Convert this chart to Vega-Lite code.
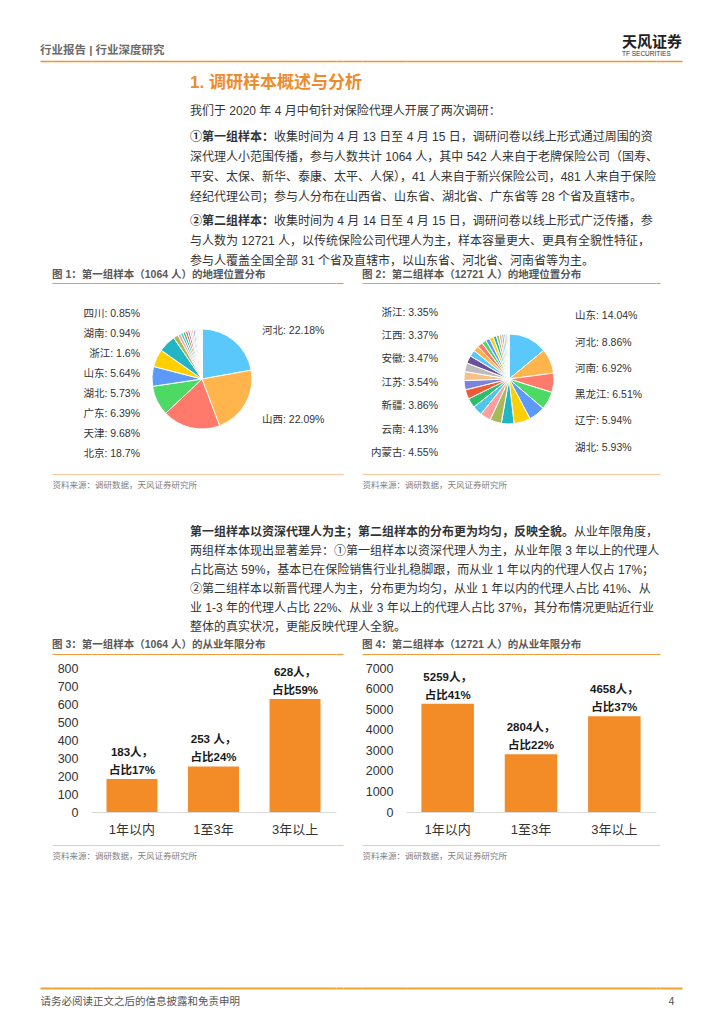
{
  "$schema": "https://vega.github.io/schema/vega-lite/v6.json",
  "background": "white",
  "padding": 0,
  "columns": 10,
  "spacing": 0,
  "bounds": "flush",
  "align": "each",
  "resolve": {"scale": {"color": "independent", "x": "independent", "y": "independent", "theta": "independent"}},
  "config": {
    "font": "Liberation Sans, Noto Sans CJK SC",
    "view": {"stroke": null},
    "title": {"font": "Liberation Sans, Noto Sans CJK SC", "subtitleFont": "Liberation Sans, Noto Sans CJK SC"},
    "axis": {"labelFont": "Liberation Sans, Noto Sans CJK SC", "titleFont": "Liberation Sans, Noto Sans CJK SC"},
    "text": {"font": "Liberation Sans, Noto Sans CJK SC"}
  },
  "concat": [
    {"width": 40, "height": 61, "data": {"values": []}, "mark": "point"},
    {"width": 12, "height": 61, "data": {"values": []}, "mark": "point",
     "encoding": {"x": {"field": "v", "type": "quantitative", "scale": {"domain": [0, 1]}, "axis": {"orient": "bottom", "labels": false, "ticks": false, "tickSize": 0, "grid": false, "title": null, "domainColor": "#F0922E", "domainWidth": 1.5}}},
     "title": {"text": "行业报告 | 行业深度研究", "orient": "bottom", "anchor": "start", "frame": "group", "offset": -16, "fontSize": 11.5, "fontWeight": "bold", "color": "#6b6b6b"}},
    {"width": 39, "height": 61, "data": {"values": []}, "mark": "point",
     "encoding": {"x": {"field": "v", "type": "quantitative", "scale": {"domain": [0, 1]}, "axis": {"orient": "bottom", "labels": false, "ticks": false, "tickSize": 0, "grid": false, "title": null, "domainColor": "#F0922E", "domainWidth": 1.5}}}},
    {"width": 245, "height": 61, "data": {"values": []}, "mark": "point",
     "encoding": {"x": {"field": "v", "type": "quantitative", "scale": {"domain": [0, 1]}, "axis": {"orient": "bottom", "labels": false, "ticks": false, "tickSize": 0, "grid": false, "title": null, "domainColor": "#F0922E", "domainWidth": 1.5}}}},
    {"width": 7, "height": 61, "data": {"values": []}, "mark": "point",
     "encoding": {"x": {"field": "v", "type": "quantitative", "scale": {"domain": [0, 1]}, "axis": {"orient": "bottom", "labels": false, "ticks": false, "tickSize": 0, "grid": false, "title": null, "domainColor": "#F0922E", "domainWidth": 1.5}}}},
    {"width": 19, "height": 61, "data": {"values": []}, "mark": "point",
     "encoding": {"x": {"field": "v", "type": "quantitative", "scale": {"domain": [0, 1]}, "axis": {"orient": "bottom", "labels": false, "ticks": false, "tickSize": 0, "grid": false, "title": null, "domainColor": "#F0922E", "domainWidth": 1.5}}}},
    {"width": 44, "height": 61, "data": {"values": []}, "mark": "point",
     "encoding": {"x": {"field": "v", "type": "quantitative", "scale": {"domain": [0, 1]}, "axis": {"orient": "bottom", "labels": false, "ticks": false, "tickSize": 0, "grid": false, "title": null, "domainColor": "#F0922E", "domainWidth": 1.5}}}},
    {"width": 250, "height": 61, "data": {"values": []}, "mark": "point",
     "encoding": {"x": {"field": "v", "type": "quantitative", "scale": {"domain": [0, 1]}, "axis": {"orient": "bottom", "labels": false, "ticks": false, "tickSize": 0, "grid": false, "title": null, "domainColor": "#F0922E", "domainWidth": 1.5}}},
     "title": {"text": "天风证券", "subtitle": "TF SECURITIES", "orient": "bottom", "anchor": "start", "frame": "group", "dx": 216, "offset": -26, "fontSize": 15, "fontWeight": "bold", "color": "#222222", "subtitleFontSize": 6.5, "subtitleColor": "#333333", "subtitlePadding": 1}},
    {"width": 4, "height": 61, "data": {"values": []}, "mark": "point",
     "encoding": {"x": {"field": "v", "type": "quantitative", "scale": {"domain": [0, 1]}, "axis": {"orient": "bottom", "labels": false, "ticks": false, "tickSize": 0, "grid": false, "title": null, "domainColor": "#F0922E", "domainWidth": 1.5}}}},
    {"width": 22, "height": 61, "data": {"values": []}, "mark": "point",
     "encoding": {"x": {"field": "v", "type": "quantitative", "scale": {"domain": [0, 1]}, "axis": {"orient": "bottom", "labels": false, "ticks": false, "tickSize": 0, "grid": false, "title": null, "domainColor": "#F0922E", "domainWidth": 1.5}}}},

    {"width": 40, "height": 39, "data": {"values": []}, "mark": "point"},
    {"width": 12, "height": 1, "data": {"values": []}, "mark": "point"},
    {"width": 39, "height": 1, "data": {"values": []}, "mark": "point"},
    {"width": 245, "height": 39, "data": {"values": []}, "mark": "point",
     "title": {"text": "1. 调研样本概述与分析", "orient": "bottom", "anchor": "start", "frame": "group", "dx": 99, "offset": -25, "fontSize": 17, "fontWeight": "bold", "color": "#EE8B2C"}},
    {"width": 7, "height": 1, "data": {"values": []}, "mark": "point"},
    {"width": 19, "height": 1, "data": {"values": []}, "mark": "point"},
    {"width": 44, "height": 1, "data": {"values": []}, "mark": "point"},
    {"width": 250, "height": 1, "data": {"values": []}, "mark": "point"},
    {"width": 4, "height": 1, "data": {"values": []}, "mark": "point"},
    {"width": 22, "height": 1, "data": {"values": []}, "mark": "point"},

    {"width": 40, "height": 26, "data": {"values": []}, "mark": "point"},
    {"width": 12, "height": 1, "data": {"values": []}, "mark": "point"},
    {"width": 39, "height": 1, "data": {"values": []}, "mark": "point"},
    {"width": 245, "height": 26, "data": {"values": []}, "mark": "point",
     "title": {"text": "我们于 2020 年 4 月中旬针对保险代理人开展了两次调研：", "orient": "bottom", "anchor": "start", "frame": "group", "dx": 99, "offset": -20, "fontSize": 12, "fontWeight": "normal", "color": "#333333"}},
    {"width": 7, "height": 1, "data": {"values": []}, "mark": "point"},
    {"width": 19, "height": 1, "data": {"values": []}, "mark": "point"},
    {"width": 44, "height": 1, "data": {"values": []}, "mark": "point"},
    {"width": 250, "height": 1, "data": {"values": []}, "mark": "point"},
    {"width": 4, "height": 1, "data": {"values": []}, "mark": "point"},
    {"width": 22, "height": 1, "data": {"values": []}, "mark": "point"},

    {"width": 40, "height": 86, "data": {"values": []}, "mark": "point"},
    {"width": 12, "height": 1, "data": {"values": []}, "mark": "point",
     "title": {"text": "收集时间为 4 月 13 日至 4 月 15 日，调研问卷以线上形式通过周围的资", "orient": "bottom", "anchor": "start", "frame": "group", "dx": 234, "offset": 5, "fontSize": 12, "fontWeight": "normal", "color": "#333333"}},
    {"width": 39, "height": 1, "data": {"values": []}, "mark": "point",
     "title": {"text": "①第一组样本：", "orient": "bottom", "anchor": "start", "frame": "group", "dx": 138, "offset": 5, "fontSize": 12, "fontWeight": "bold", "color": "#333333"}},
    {"width": 245, "height": 86, "data": {"values": []}, "mark": "point",
     "title": {"text": ["深代理人小范围传播，参与人数共计 1064 人，其中 542 人来自于老牌保险公司（国寿、", "平安、太保、新华、泰康、太平、人保），41 人来自于新兴保险公司，481 人来自于保险", "经纪代理公司；参与人分布在山西省、山东省、湖北省、广东省等 28 个省及直辖市。"], "lineHeight": 20, "orient": "bottom", "anchor": "start", "frame": "group", "dx": 99, "offset": -60, "fontSize": 12, "fontWeight": "normal", "color": "#333333"}},
    {"width": 7, "height": 1, "data": {"values": []}, "mark": "point"},
    {"width": 19, "height": 1, "data": {"values": []}, "mark": "point"},
    {"width": 44, "height": 1, "data": {"values": []}, "mark": "point"},
    {"width": 250, "height": 1, "data": {"values": []}, "mark": "point"},
    {"width": 4, "height": 1, "data": {"values": []}, "mark": "point"},
    {"width": 22, "height": 1, "data": {"values": []}, "mark": "point"},

    {"width": 40, "height": 71, "data": {"values": []}, "mark": "point"},
    {"width": 12, "height": 1, "data": {"values": []}, "mark": "point",
     "title": {"text": "收集时间为 4 月 14 日至 4 月 15 日，调研问卷以线上形式广泛传播，参", "orient": "bottom", "anchor": "start", "frame": "group", "dx": 234, "offset": 3, "fontSize": 12, "fontWeight": "normal", "color": "#333333"}},
    {"width": 39, "height": 1, "data": {"values": []}, "mark": "point",
     "title": {"text": "②第二组样本：", "orient": "bottom", "anchor": "start", "frame": "group", "dx": 138, "offset": 3, "fontSize": 12, "fontWeight": "bold", "color": "#333333"}},
    {"width": 245, "height": 71, "data": {"values": []}, "mark": "point",
     "title": {"text": ["与人数为 12721 人，以传统保险公司代理人为主，样本容量更大、更具有全貌性特征，", "参与人覆盖全国全部 31 个省及直辖市，以山东省、河北省、河南省等为主。"], "lineHeight": 20, "orient": "bottom", "anchor": "start", "frame": "group", "dx": 99, "offset": -47, "fontSize": 12, "fontWeight": "normal", "color": "#333333"}},
    {"width": 7, "height": 1, "data": {"values": []}, "mark": "point"},
    {"width": 19, "height": 1, "data": {"values": []}, "mark": "point"},
    {"width": 44, "height": 1, "data": {"values": []}, "mark": "point"},
    {"width": 250, "height": 1, "data": {"values": []}, "mark": "point"},
    {"width": 4, "height": 1, "data": {"values": []}, "mark": "point"},
    {"width": 22, "height": 1, "data": {"values": []}, "mark": "point"},

    {"width": 40, "height": 1, "data": {"values": []}, "mark": "point"},
    {"width": 12, "height": 1, "data": {"values": []}, "mark": "point"},
    {"width": 39, "height": 1, "data": {"values": []}, "mark": "point",
     "encoding": {"x": {"field": "v", "type": "quantitative", "scale": {"domain": [0, 1]}, "axis": {"orient": "top", "labels": false, "ticks": false, "tickSize": 0, "grid": false, "title": null, "domainColor": "#F39A3C", "domainWidth": 1.2}}},
     "title": {"text": "图 1：第一组样本（1064 人）的地理位置分布", "orient": "top", "anchor": "start", "frame": "group", "offset": 3, "fontSize": 10.5, "fontWeight": "bold", "color": "#595959"}},
    {"width": 245, "height": 1, "data": {"values": []}, "mark": "point",
     "encoding": {"x": {"field": "v", "type": "quantitative", "scale": {"domain": [0, 1]}, "axis": {"orient": "top", "labels": false, "ticks": false, "tickSize": 0, "grid": false, "title": null, "domainColor": "#F39A3C", "domainWidth": 1.2}}}},
    {"width": 7, "height": 1, "data": {"values": []}, "mark": "point",
     "encoding": {"x": {"field": "v", "type": "quantitative", "scale": {"domain": [0, 1]}, "axis": {"orient": "top", "labels": false, "ticks": false, "tickSize": 0, "grid": false, "title": null, "domainColor": "#F39A3C", "domainWidth": 1.2}}}},
    {"width": 19, "height": 1, "data": {"values": []}, "mark": "point"},
    {"width": 44, "height": 1, "data": {"values": []}, "mark": "point",
     "encoding": {"x": {"field": "v", "type": "quantitative", "scale": {"domain": [0, 1]}, "axis": {"orient": "top", "labels": false, "ticks": false, "tickSize": 0, "grid": false, "title": null, "domainColor": "#F39A3C", "domainWidth": 1.2}}},
     "title": {"text": "图 2：第二组样本（12721 人）的地理位置分布", "orient": "top", "anchor": "start", "frame": "group", "offset": 3, "fontSize": 10.5, "fontWeight": "bold", "color": "#595959"}},
    {"width": 250, "height": 1, "data": {"values": []}, "mark": "point",
     "encoding": {"x": {"field": "v", "type": "quantitative", "scale": {"domain": [0, 1]}, "axis": {"orient": "top", "labels": false, "ticks": false, "tickSize": 0, "grid": false, "title": null, "domainColor": "#F39A3C", "domainWidth": 1.2}}}},
    {"width": 4, "height": 1, "data": {"values": []}, "mark": "point",
     "encoding": {"x": {"field": "v", "type": "quantitative", "scale": {"domain": [0, 1]}, "axis": {"orient": "top", "labels": false, "ticks": false, "tickSize": 0, "grid": false, "title": null, "domainColor": "#F39A3C", "domainWidth": 1.2}}}},
    {"width": 22, "height": 1, "data": {"values": []}, "mark": "point"},

    {"width": 40, "height": 190, "data": {"values": []}, "mark": "point"},
    {"width": 12, "height": 1, "data": {"values": []}, "mark": "point"},
    {"width": 39, "height": 190, "data": {"values": []}, "mark": "point",
     "encoding": {"x": {"field": "v", "type": "quantitative", "scale": {"domain": [0, 1]}, "axis": {"orient": "bottom", "labels": false, "ticks": false, "tickSize": 0, "grid": false, "domainColor": "#F9C89D", "domainWidth": 1.2,
       "title": "资料来源：调研数据，天风证券研究所", "titleAnchor": "start", "titleAlign": "left", "titleFontSize": 8.5, "titleFontWeight": "normal", "titleColor": "#7f7f7f", "titlePadding": 6}}}},
    {"width": 245, "height": 190,
     "data": {"values": [
       {"name": "河北", "pct": 22.18, "label": "河北: 22.18%"},
       {"name": "山西", "pct": 22.09, "label": "山西: 22.09%"},
       {"name": "北京", "pct": 18.7, "label": "北京: 18.7%"},
       {"name": "天津", "pct": 9.68, "label": "天津: 9.68%"},
       {"name": "广东", "pct": 6.39, "label": "广东: 6.39%"},
       {"name": "湖北", "pct": 5.73, "label": "湖北: 5.73%"},
       {"name": "山东", "pct": 5.64, "label": "山东: 5.64%"},
       {"name": "浙江", "pct": 1.6, "label": "浙江: 1.6%"},
       {"name": "湖南", "pct": 0.94, "label": "湖南: 0.94%"},
       {"name": "四川", "pct": 0.85, "label": "四川: 0.85%"},
       {"name": "河南", "pct": 0.8, "label": ""},
       {"name": "江苏", "pct": 0.75, "label": ""},
       {"name": "辽宁", "pct": 0.7, "label": ""},
       {"name": "陕西", "pct": 0.6, "label": ""},
       {"name": "福建", "pct": 0.55, "label": ""},
       {"name": "上海", "pct": 0.48, "label": ""},
       {"name": "安徽", "pct": 0.42, "label": ""},
       {"name": "重庆", "pct": 0.37, "label": ""},
       {"name": "内蒙古", "pct": 0.32, "label": ""},
       {"name": "黑龙江", "pct": 0.27, "label": ""},
       {"name": "吉林", "pct": 0.22, "label": ""},
       {"name": "江西", "pct": 0.18, "label": ""},
       {"name": "云南", "pct": 0.15, "label": ""},
       {"name": "贵州", "pct": 0.12, "label": ""},
       {"name": "广西", "pct": 0.09, "label": ""},
       {"name": "甘肃", "pct": 0.07, "label": ""},
       {"name": "新疆", "pct": 0.06, "label": ""},
       {"name": "海南", "pct": 0.05, "label": ""}
     ]},
     "layer": [
       {"transform": [{"stack": "pct", "groupby": [], "sort": [{"field": "pct", "order": "descending"}], "as": ["p0", "p1"]}],
        "mark": {"type": "arc", "outerRadius": 50, "stroke": "white", "strokeWidth": 1},
        "encoding": {
          "x": {"datum": 0.453, "type": "quantitative", "scale": {"domain": [0, 1]}, "axis": null},
          "theta": {"field": "p0", "type": "quantitative", "scale": {"domain": [0, 100]}},
          "theta2": {"field": "p1"},
          "color": {"field": "name", "type": "nominal", "legend": null,
            "scale": {"domain": ["河北","山西","北京","天津","广东","湖北","山东","浙江","湖南","四川","河南","江苏","辽宁","陕西","福建","上海","安徽","重庆","内蒙古","黑龙江","吉林","江西","云南","贵州","广西","甘肃","新疆","海南"],
              "range": ["#5AC8FA","#FFB54C","#FF7A6B","#4CD964","#5B9BF7","#FFCF00","#22B5C6","#A8BA58","#FF9E9E","#4FC5EB","#2DBE6C","#EE5A37","#7C82E0","#F6C186","#BDBDBD","#6A4F9E","#5AC8FA","#FFB54C","#FF7A6B","#4CD964","#5B9BF7","#FFCF00","#22B5C6","#A8BA58","#FF9E9E","#4FC5EB","#2DBE6C","#EE5A37"]}}
        }},
       {"transform": [{"stack": "pct", "groupby": [], "sort": [{"field": "pct", "order": "descending"}], "as": ["p0", "p1"]},
          {"filter": "datum.label != '' && datum.p0 + datum.p1 > 100"},
          {"window": [{"op": "row_number", "as": "rk"}], "sort": [{"field": "p0", "order": "ascending"}]}],
        "mark": {"type": "text", "align": "right", "baseline": "middle", "fontSize": 10.5, "color": "#333333"},
        "encoding": {
          "x": {"datum": 0.2, "type": "quantitative", "scale": {"domain": [0, 1]}, "axis": null},
          "y": {"field": "rk", "type": "quantitative", "scale": {"domain": [0, 9.5], "nice": false, "zero": false}, "axis": null},
          "text": {"field": "label"}
        }},
       {"transform": [{"stack": "pct", "groupby": [], "sort": [{"field": "pct", "order": "descending"}], "as": ["p0", "p1"]},
          {"filter": "datum.label != '' && datum.p0 + datum.p1 <= 100"},
          {"window": [{"op": "row_number", "as": "rk"}], "sort": [{"field": "p0", "order": "descending"}]}],
        "mark": {"type": "text", "align": "left", "baseline": "middle", "fontSize": 10.5, "color": "#333333"},
        "encoding": {
          "x": {"datum": 0.698, "type": "quantitative", "scale": {"domain": [0, 1]}, "axis": null},
          "y": {"field": "rk", "type": "quantitative", "scale": {"domain": [0.4, 2.52], "nice": false, "zero": false}, "axis": null},
          "text": {"field": "label"}
        }},
       {"data": {"values": []}, "mark": "point",
        "encoding": {"x": {"field": "v", "type": "quantitative", "scale": {"domain": [0, 1]},
          "axis": {"orient": "bottom", "labels": false, "ticks": false, "tickSize": 0, "grid": false, "title": null, "domainColor": "#F9C89D", "domainWidth": 1.2}}}}
     ],
     "resolve": {"scale": {"x": "independent", "y": "independent"}, "axis": {"x": "independent"}}},
    {"width": 7, "height": 190, "data": {"values": []}, "mark": "point",
     "encoding": {"x": {"field": "v", "type": "quantitative", "scale": {"domain": [0, 1]}, "axis": {"orient": "bottom", "labels": false, "ticks": false, "tickSize": 0, "grid": false, "title": null, "domainColor": "#F9C89D", "domainWidth": 1.2}}}},
    {"width": 19, "height": 1, "data": {"values": []}, "mark": "point"},
    {"width": 44, "height": 190, "data": {"values": []}, "mark": "point",
     "encoding": {"x": {"field": "v", "type": "quantitative", "scale": {"domain": [0, 1]}, "axis": {"orient": "bottom", "labels": false, "ticks": false, "tickSize": 0, "grid": false, "domainColor": "#F9C89D", "domainWidth": 1.2,
       "title": "资料来源：调研数据，天风证券研究所", "titleAnchor": "start", "titleAlign": "left", "titleFontSize": 8.5, "titleFontWeight": "normal", "titleColor": "#7f7f7f", "titlePadding": 6}}}},
    {"width": 250, "height": 190,
     "data": {"values": [
       {"name": "山东", "pct": 14.04, "label": "山东: 14.04%"},
       {"name": "河北", "pct": 8.86, "label": "河北: 8.86%"},
       {"name": "河南", "pct": 6.92, "label": "河南: 6.92%"},
       {"name": "黑龙江", "pct": 6.51, "label": "黑龙江: 6.51%"},
       {"name": "辽宁", "pct": 5.94, "label": "辽宁: 5.94%"},
       {"name": "湖北", "pct": 5.93, "label": "湖北: 5.93%"},
       {"name": "内蒙古", "pct": 4.55, "label": "内蒙古: 4.55%"},
       {"name": "云南", "pct": 4.13, "label": "云南: 4.13%"},
       {"name": "新疆", "pct": 3.86, "label": "新疆: 3.86%"},
       {"name": "江苏", "pct": 3.54, "label": "江苏: 3.54%"},
       {"name": "安徽", "pct": 3.47, "label": "安徽: 3.47%"},
       {"name": "江西", "pct": 3.37, "label": "江西: 3.37%"},
       {"name": "浙江", "pct": 3.35, "label": "浙江: 3.35%"},
       {"name": "山西", "pct": 3.2, "label": ""},
       {"name": "吉林", "pct": 3.1, "label": ""},
       {"name": "广东", "pct": 2.8, "label": ""},
       {"name": "四川", "pct": 2.3, "label": ""},
       {"name": "陕西", "pct": 2.0, "label": ""},
       {"name": "湖南", "pct": 1.9, "label": ""},
       {"name": "福建", "pct": 1.6, "label": ""},
       {"name": "贵州", "pct": 1.5, "label": ""},
       {"name": "甘肃", "pct": 1.4, "label": ""},
       {"name": "广西", "pct": 1.2, "label": ""},
       {"name": "重庆", "pct": 1.0, "label": ""},
       {"name": "北京", "pct": 0.9, "label": ""},
       {"name": "天津", "pct": 0.8, "label": ""},
       {"name": "宁夏", "pct": 0.6, "label": ""},
       {"name": "青海", "pct": 0.5, "label": ""},
       {"name": "上海", "pct": 0.35, "label": ""},
       {"name": "海南", "pct": 0.25, "label": ""},
       {"name": "西藏", "pct": 0.13, "label": ""}
     ]},
     "layer": [
       {"transform": [{"stack": "pct", "groupby": [], "sort": [{"field": "pct", "order": "descending"}], "as": ["p0", "p1"]}],
        "mark": {"type": "arc", "outerRadius": 45, "stroke": "white", "strokeWidth": 1},
        "encoding": {
          "x": {"datum": 0.412, "type": "quantitative", "scale": {"domain": [0, 1]}, "axis": null},
          "theta": {"field": "p0", "type": "quantitative", "scale": {"domain": [0, 100]}},
          "theta2": {"field": "p1"},
          "color": {"field": "name", "type": "nominal", "legend": null,
            "scale": {"domain": ["山东","河北","河南","黑龙江","辽宁","湖北","内蒙古","云南","新疆","江苏","安徽","江西","浙江","山西","吉林","广东","四川","陕西","湖南","福建","贵州","甘肃","广西","重庆","北京","天津","宁夏","青海","上海","海南","西藏"],
              "range": ["#5AC8FA","#FFB54C","#FF7A6B","#4CD964","#5B9BF7","#FFCF00","#22B5C6","#A8BA58","#FF9E9E","#4FC5EB","#2DBE6C","#EE5A37","#7C82E0","#F6C186","#BDBDBD","#6A4F9E","#5AC8FA","#FFB54C","#FF7A6B","#4CD964","#5B9BF7","#FFCF00","#22B5C6","#A8BA58","#FF9E9E","#4FC5EB","#2DBE6C","#EE5A37","#7C82E0","#F6C186","#BDBDBD"]}}
        }},
       {"transform": [{"stack": "pct", "groupby": [], "sort": [{"field": "pct", "order": "descending"}], "as": ["p0", "p1"]},
          {"filter": "datum.label != '' && datum.p0 + datum.p1 > 100"},
          {"window": [{"op": "row_number", "as": "rk"}], "sort": [{"field": "p0", "order": "ascending"}]}],
        "mark": {"type": "text", "align": "right", "baseline": "middle", "fontSize": 10.5, "color": "#333333"},
        "encoding": {
          "x": {"datum": 0.128, "type": "quantitative", "scale": {"domain": [0, 1]}, "axis": null},
          "y": {"field": "rk", "type": "quantitative", "scale": {"domain": [0.1, 8.23], "nice": false, "zero": false}, "axis": null},
          "text": {"field": "label"}
        }},
       {"transform": [{"stack": "pct", "groupby": [], "sort": [{"field": "pct", "order": "descending"}], "as": ["p0", "p1"]},
          {"filter": "datum.label != '' && datum.p0 + datum.p1 <= 100"},
          {"window": [{"op": "row_number", "as": "rk"}], "sort": [{"field": "p0", "order": "descending"}]}],
        "mark": {"type": "text", "align": "left", "baseline": "middle", "fontSize": 10.5, "color": "#333333"},
        "encoding": {
          "x": {"datum": 0.676, "type": "quantitative", "scale": {"domain": [0, 1]}, "axis": null},
          "y": {"field": "rk", "type": "quantitative", "scale": {"domain": [0, 7.23], "nice": false, "zero": false}, "axis": null},
          "text": {"field": "label"}
        }},
       {"data": {"values": []}, "mark": "point",
        "encoding": {"x": {"field": "v", "type": "quantitative", "scale": {"domain": [0, 1]},
          "axis": {"orient": "bottom", "labels": false, "ticks": false, "tickSize": 0, "grid": false, "title": null, "domainColor": "#F9C89D", "domainWidth": 1.2}}}}
     ],
     "resolve": {"scale": {"x": "independent", "y": "independent"}, "axis": {"x": "independent"}}},
    {"width": 4, "height": 190, "data": {"values": []}, "mark": "point",
     "encoding": {"x": {"field": "v", "type": "quantitative", "scale": {"domain": [0, 1]}, "axis": {"orient": "bottom", "labels": false, "ticks": false, "tickSize": 0, "grid": false, "title": null, "domainColor": "#F9C89D", "domainWidth": 1.2}}}},
    {"width": 22, "height": 1, "data": {"values": []}, "mark": "point"},

    {"width": 40, "height": 180, "data": {"values": []}, "mark": "point"},
    {"width": 12, "height": 1, "data": {"values": []}, "mark": "point",
     "title": {"text": "从业年限角度，", "orient": "bottom", "anchor": "start", "frame": "group", "dx": 534, "offset": 52, "fontSize": 12, "fontWeight": "normal", "color": "#333333"}},
    {"width": 39, "height": 1, "data": {"values": []}, "mark": "point",
     "title": {"text": "第一组样本以资深代理人为主；第二组样本的分布更为均匀，反映全貌。", "orient": "bottom", "anchor": "start", "frame": "group", "dx": 138, "offset": 52, "fontSize": 12, "fontWeight": "bold", "color": "#333333"}},
    {"width": 245, "height": 180, "data": {"values": []}, "mark": "point",
     "title": {"text": ["两组样本体现出显著差异：①第一组样本以资深代理人为主，从业年限 3 年以上的代理人", "占比高达 59%，基本已在保险销售行业扎稳脚跟，而从业 1 年以内的代理人仅占 17%；", "②第二组样本以新晋代理人为主，分布更为均匀，从业 1 年以内的代理人占比 41%、从", "业 1-3 年的代理人占比 22%、从业 3 年以上的代理人占比 37%，其分布情况更贴近行业", "整体的真实状况，更能反映代理人全貌。"],
       "lineHeight": 19, "orient": "bottom", "anchor": "start", "frame": "group", "dx": 99, "offset": -108, "fontSize": 12, "fontWeight": "normal", "color": "#333333"}},
    {"width": 7, "height": 1, "data": {"values": []}, "mark": "point"},
    {"width": 19, "height": 1, "data": {"values": []}, "mark": "point"},
    {"width": 44, "height": 1, "data": {"values": []}, "mark": "point"},
    {"width": 250, "height": 1, "data": {"values": []}, "mark": "point"},
    {"width": 4, "height": 1, "data": {"values": []}, "mark": "point"},
    {"width": 22, "height": 1, "data": {"values": []}, "mark": "point"},

    {"width": 40, "height": 14, "data": {"values": []}, "mark": "point"},
    {"width": 12, "height": 1, "data": {"values": []}, "mark": "point"},
    {"width": 39, "height": 14, "data": {"values": []}, "mark": "point",
     "encoding": {"x": {"field": "v", "type": "quantitative", "scale": {"domain": [0, 1]}, "axis": {"orient": "top", "labels": false, "ticks": false, "tickSize": 0, "grid": false, "title": null, "domainColor": "#F39A3C", "domainWidth": 1.2}}},
     "title": {"text": "图 3：第一组样本（1064 人）的从业年限分布", "orient": "top", "anchor": "start", "frame": "group", "offset": 4, "fontSize": 10.5, "fontWeight": "bold", "color": "#595959"}},
    {"width": 245, "height": 14, "data": {"values": []}, "mark": "point",
     "encoding": {"x": {"field": "v", "type": "quantitative", "scale": {"domain": [0, 1]}, "axis": {"orient": "top", "labels": false, "ticks": false, "tickSize": 0, "grid": false, "title": null, "domainColor": "#F39A3C", "domainWidth": 1.2}}}},
    {"width": 7, "height": 14, "data": {"values": []}, "mark": "point",
     "encoding": {"x": {"field": "v", "type": "quantitative", "scale": {"domain": [0, 1]}, "axis": {"orient": "top", "labels": false, "ticks": false, "tickSize": 0, "grid": false, "title": null, "domainColor": "#F39A3C", "domainWidth": 1.2}}}},
    {"width": 19, "height": 1, "data": {"values": []}, "mark": "point"},
    {"width": 44, "height": 14, "data": {"values": []}, "mark": "point",
     "encoding": {"x": {"field": "v", "type": "quantitative", "scale": {"domain": [0, 1]}, "axis": {"orient": "top", "labels": false, "ticks": false, "tickSize": 0, "grid": false, "title": null, "domainColor": "#F39A3C", "domainWidth": 1.2}}},
     "title": {"text": "图 4：第二组样本（12721 人）的从业年限分布", "orient": "top", "anchor": "start", "frame": "group", "offset": 4, "fontSize": 10.5, "fontWeight": "bold", "color": "#595959"}},
    {"width": 250, "height": 14, "data": {"values": []}, "mark": "point",
     "encoding": {"x": {"field": "v", "type": "quantitative", "scale": {"domain": [0, 1]}, "axis": {"orient": "top", "labels": false, "ticks": false, "tickSize": 0, "grid": false, "title": null, "domainColor": "#F39A3C", "domainWidth": 1.2}}}},
    {"width": 4, "height": 14, "data": {"values": []}, "mark": "point",
     "encoding": {"x": {"field": "v", "type": "quantitative", "scale": {"domain": [0, 1]}, "axis": {"orient": "top", "labels": false, "ticks": false, "tickSize": 0, "grid": false, "title": null, "domainColor": "#F39A3C", "domainWidth": 1.2}}}},
    {"width": 22, "height": 1, "data": {"values": []}, "mark": "point"},

    {"width": 40, "height": 144, "data": {"values": []}, "mark": "point"},
    {"width": 12, "height": 1, "data": {"values": []}, "mark": "point"},
    {"width": 39, "height": 1, "data": {"values": []}, "mark": "point"},
    {"width": 245, "height": 144,
     "data": {"values": [
       {"cat": "1年以内", "n": 183, "label": "183人，\n占比17%"},
       {"cat": "1至3年", "n": 253, "label": "253 人，\n占比24%"},
       {"cat": "3年以上", "n": 628, "label": "628人，\n占比59%"}
     ]},
     "encoding": {
       "x": {"field": "cat", "type": "nominal", "sort": null, "scale": {"paddingInner": 0.375, "paddingOuter": 0.19},
         "axis": {"title": null, "labelAngle": 0, "labelFontSize": 13, "labelColor": "#333333", "ticks": false, "tickSize": 0, "labelPadding": 11, "domainColor": "#D9D9D9", "grid": false}},
       "y": {"field": "n", "type": "quantitative", "scale": {"domain": [0, 800]},
         "axis": {"title": null, "values": [0, 100, 200, 300, 400, 500, 600, 700, 800], "format": "d", "labelOverlap": false, "grid": false, "domain": false, "ticks": false, "tickSize": 0, "labelPadding": 13, "labelFontSize": 12.5, "labelColor": "#333333"}}
     },
     "layer": [
       {"mark": {"type": "bar", "color": "#F38B26"}},
       {"mark": {"type": "text", "lineBreak": "\n", "lineHeight": 18, "baseline": "bottom", "dy": -21, "fontSize": 11.5, "fontWeight": "bold", "color": "#1a1a1a"},
        "encoding": {"text": {"field": "label"}}}
     ]},
    {"width": 7, "height": 1, "data": {"values": []}, "mark": "point"},
    {"width": 19, "height": 1, "data": {"values": []}, "mark": "point"},
    {"width": 44, "height": 1, "data": {"values": []}, "mark": "point"},
    {"width": 250, "height": 144,
     "data": {"values": [
       {"cat": "1年以内", "n": 5259, "label": "5259人，\n占比41%"},
       {"cat": "1至3年", "n": 2804, "label": "2804人，\n占比22%"},
       {"cat": "3年以上", "n": 4658, "label": "4658人，\n占比37%"}
     ]},
     "encoding": {
       "x": {"field": "cat", "type": "nominal", "sort": null, "scale": {"paddingInner": 0.37, "paddingOuter": 0.185},
         "axis": {"title": null, "labelAngle": 0, "labelFontSize": 13, "labelColor": "#333333", "ticks": false, "tickSize": 0, "labelPadding": 11, "domainColor": "#D9D9D9", "grid": false}},
       "y": {"field": "n", "type": "quantitative", "scale": {"domain": [0, 7000]},
         "axis": {"title": null, "values": [0, 1000, 2000, 3000, 4000, 5000, 6000, 7000], "format": "d", "labelOverlap": false, "grid": false, "domain": false, "ticks": false, "tickSize": 0, "labelPadding": 13, "labelFontSize": 12.5, "labelColor": "#333333"}}
     },
     "layer": [
       {"mark": {"type": "bar", "color": "#F38B26"}},
       {"mark": {"type": "text", "lineBreak": "\n", "lineHeight": 18, "baseline": "bottom", "dy": -21, "fontSize": 11.5, "fontWeight": "bold", "color": "#1a1a1a"},
        "encoding": {"text": {"field": "label"}}}
     ]},
    {"width": 4, "height": 1, "data": {"values": []}, "mark": "point"},
    {"width": 22, "height": 1, "data": {"values": []}, "mark": "point"},

    {"width": 40, "height": 33, "data": {"values": []}, "mark": "point"},
    {"width": 12, "height": 1, "data": {"values": []}, "mark": "point"},
    {"width": 39, "height": 33, "data": {"values": []}, "mark": "point",
     "encoding": {"x": {"field": "v", "type": "quantitative", "scale": {"domain": [0, 1]}, "axis": {"orient": "bottom", "labels": false, "ticks": false, "tickSize": 0, "grid": false, "domainColor": "#F9C89D", "domainWidth": 1.2,
       "title": "资料来源：调研数据，天风证券研究所", "titleAnchor": "start", "titleAlign": "left", "titleFontSize": 8.5, "titleFontWeight": "normal", "titleColor": "#7f7f7f", "titlePadding": 6}}}},
    {"width": 245, "height": 33, "data": {"values": []}, "mark": "point",
     "encoding": {"x": {"field": "v", "type": "quantitative", "scale": {"domain": [0, 1]}, "axis": {"orient": "bottom", "labels": false, "ticks": false, "tickSize": 0, "grid": false, "title": null, "domainColor": "#F9C89D", "domainWidth": 1.2}}}},
    {"width": 7, "height": 33, "data": {"values": []}, "mark": "point",
     "encoding": {"x": {"field": "v", "type": "quantitative", "scale": {"domain": [0, 1]}, "axis": {"orient": "bottom", "labels": false, "ticks": false, "tickSize": 0, "grid": false, "title": null, "domainColor": "#F9C89D", "domainWidth": 1.2}}}},
    {"width": 19, "height": 1, "data": {"values": []}, "mark": "point"},
    {"width": 44, "height": 33, "data": {"values": []}, "mark": "point",
     "encoding": {"x": {"field": "v", "type": "quantitative", "scale": {"domain": [0, 1]}, "axis": {"orient": "bottom", "labels": false, "ticks": false, "tickSize": 0, "grid": false, "domainColor": "#F9C89D", "domainWidth": 1.2,
       "title": "资料来源：调研数据，天风证券研究所", "titleAnchor": "start", "titleAlign": "left", "titleFontSize": 8.5, "titleFontWeight": "normal", "titleColor": "#7f7f7f", "titlePadding": 6}}}},
    {"width": 250, "height": 33, "data": {"values": []}, "mark": "point",
     "encoding": {"x": {"field": "v", "type": "quantitative", "scale": {"domain": [0, 1]}, "axis": {"orient": "bottom", "labels": false, "ticks": false, "tickSize": 0, "grid": false, "title": null, "domainColor": "#F9C89D", "domainWidth": 1.2}}}},
    {"width": 4, "height": 33, "data": {"values": []}, "mark": "point",
     "encoding": {"x": {"field": "v", "type": "quantitative", "scale": {"domain": [0, 1]}, "axis": {"orient": "bottom", "labels": false, "ticks": false, "tickSize": 0, "grid": false, "title": null, "domainColor": "#F9C89D", "domainWidth": 1.2}}}},
    {"width": 22, "height": 1, "data": {"values": []}, "mark": "point"},

    {"width": 40, "height": 143, "data": {"values": []}, "mark": "point"},
    {"width": 12, "height": 143, "data": {"values": []}, "mark": "point",
     "encoding": {"x": {"field": "v", "type": "quantitative", "scale": {"domain": [0, 1]}, "axis": {"orient": "bottom", "labels": false, "ticks": false, "tickSize": 0, "grid": false, "domainColor": "#F0A22E", "domainWidth": 2,
       "title": "请务必阅读正文之后的信息披露和免责申明", "titleAnchor": "start", "titleAlign": "left", "titleFontSize": 10.5, "titleFontWeight": "normal", "titleColor": "#555555", "titlePadding": 8}}}},
    {"width": 39, "height": 143, "data": {"values": []}, "mark": "point",
     "encoding": {"x": {"field": "v", "type": "quantitative", "scale": {"domain": [0, 1]}, "axis": {"orient": "bottom", "labels": false, "ticks": false, "tickSize": 0, "grid": false, "title": null, "domainColor": "#F0A22E", "domainWidth": 2}}}},
    {"width": 245, "height": 143, "data": {"values": []}, "mark": "point",
     "encoding": {"x": {"field": "v", "type": "quantitative", "scale": {"domain": [0, 1]}, "axis": {"orient": "bottom", "labels": false, "ticks": false, "tickSize": 0, "grid": false, "title": null, "domainColor": "#F0A22E", "domainWidth": 2}}}},
    {"width": 7, "height": 143, "data": {"values": []}, "mark": "point",
     "encoding": {"x": {"field": "v", "type": "quantitative", "scale": {"domain": [0, 1]}, "axis": {"orient": "bottom", "labels": false, "ticks": false, "tickSize": 0, "grid": false, "title": null, "domainColor": "#F0A22E", "domainWidth": 2}}}},
    {"width": 19, "height": 143, "data": {"values": []}, "mark": "point",
     "encoding": {"x": {"field": "v", "type": "quantitative", "scale": {"domain": [0, 1]}, "axis": {"orient": "bottom", "labels": false, "ticks": false, "tickSize": 0, "grid": false, "title": null, "domainColor": "#F0A22E", "domainWidth": 2}}}},
    {"width": 44, "height": 143, "data": {"values": []}, "mark": "point",
     "encoding": {"x": {"field": "v", "type": "quantitative", "scale": {"domain": [0, 1]}, "axis": {"orient": "bottom", "labels": false, "ticks": false, "tickSize": 0, "grid": false, "title": null, "domainColor": "#F0A22E", "domainWidth": 2}}}},
    {"width": 250, "height": 143, "data": {"values": []}, "mark": "point",
     "encoding": {"x": {"field": "v", "type": "quantitative", "scale": {"domain": [0, 1]}, "axis": {"orient": "bottom", "labels": false, "ticks": false, "tickSize": 0, "grid": false, "title": null, "domainColor": "#F0A22E", "domainWidth": 2}}}},
    {"width": 4, "height": 143, "data": {"values": []}, "mark": "point",
     "encoding": {"x": {"field": "v", "type": "quantitative", "scale": {"domain": [0, 1]}, "axis": {"orient": "bottom", "labels": false, "ticks": false, "tickSize": 0, "grid": false, "title": null, "domainColor": "#F0A22E", "domainWidth": 2}}}},
    {"width": 22, "height": 143, "data": {"values": []}, "mark": "point",
     "encoding": {"x": {"field": "v", "type": "quantitative", "scale": {"domain": [0, 1]}, "axis": {"orient": "bottom", "labels": false, "ticks": false, "tickSize": 0, "grid": false, "domainColor": "#F0A22E", "domainWidth": 2,
       "title": "4", "titleAnchor": "middle", "titleFontSize": 10.5, "titleFontWeight": "normal", "titleColor": "#555555", "titlePadding": 8}}}}
  ]
}
